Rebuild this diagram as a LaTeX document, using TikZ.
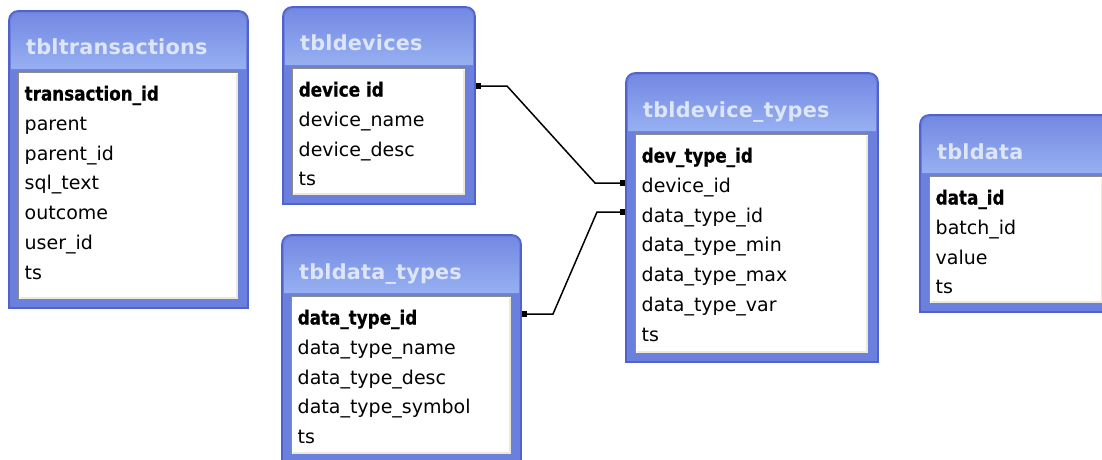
\documentclass[tikz,border=0pt]{standalone}
\usepackage{fontspec}
\setmainfont{DejaVu Sans}
\newfontfamily\titlefont{DejaVu Sans}[LetterSpace=1]
\newfontfamily\keyfont{DejaVu Sans}[FakeStretch=0.86,FakeBold=0.6]
\usetikzlibrary{arrows.meta}

\definecolor{framebody}{HTML}{6B7FDD}
\definecolor{frameedge}{HTML}{5062CF}
\definecolor{titletop}{HTML}{7489E3}
\definecolor{titlebot}{HTML}{97B0F1}
\definecolor{titleink}{HTML}{DCE6F8}
\definecolor{sunkdark}{HTML}{8E8E86}
\definecolor{sunklight}{HTML}{EDE9DA}

\tikzset{
  tblframe/.style={rectangle, draw=none, inner sep=0pt, outer sep=0pt},
  tblbody/.style={rectangle, fill=white, draw=none, inner sep=0pt, outer sep=0pt},
  tbltitle/.style={inner sep=0pt, text=titleink, font=\titlefont\bfseries\fontsize{20.8}{21}\selectfont},
  tblkey/.style={inner sep=0pt, text=black, font=\keyfont\bfseries\fontsize{19.5}{20}\selectfont},
  tblfield/.style={inner sep=0pt, text=black, font=\fontsize{19}{20}\selectfont},
  relation/.style={line width=1.5pt, black,
    {Square[length=5pt,width=6pt]}-{Square[length=5pt,width=6pt]}},
}

% One table: name, left, top, right, bottom, title, key field, other fields
\newcommand\ertable[8]{%
  \node[tblframe, minimum width={(#4-#2)*1pt}, minimum height={(#5-#3)*1pt}]
    (#1) at ({(#2+#4)/2},{(#3+#5)/2}) {};
  \fill[framebody] (#1.south west) [rounded corners=9pt] -- (#1.north west)
    -- (#1.north east) [sharp corners] -- (#1.south east) -- cycle;
  \shade[top color=titletop, bottom color=titlebot]
    ({#2+2},{#3+58}) [rounded corners=8pt] -- ({#2+2},{#3+2})
    -- ({#4-2},{#3+2}) [sharp corners] -- ({#4-2},{#3+58}) -- cycle;
  \draw[frameedge, line width=1.6pt] (#1.south west) [rounded corners=9pt] -- (#1.north west)
    -- (#1.north east) [sharp corners] -- (#1.south east) -- cycle;
  \node[tblbody, minimum width={(#4-#2-19.5)*1pt}, minimum height={(#5-#3-70.5)*1pt}]
    (#1-body) at ({(#2+9.5+#4-10)/2},{(#3+61.5+#5-9)/2}) {};
  \draw[sunklight, line width=2pt] ([shift={(-1,1)}]#1-body.north east)
    -- ([shift={(-1,-1)}]#1-body.south east) -- ([shift={(1,-1)}]#1-body.south west);
  \draw[sunkdark, line width=1.2pt] (#1-body.south west) -- (#1-body.north west)
    -- (#1-body.north east);
  \node[tbltitle, anchor=base west] (#1-title) at ({#2+17},{#3+44}) {#6};
  \node[tblkey, anchor=base west] (#1-key) at ({#2+15.5},{#3+89.5}) {#7};
  \foreach \f [count=\i] in {#8} {
    \node[tblfield, anchor=base west] (#1-f\i) at ({#2+15.5},{#3+89.5+\i*29.75}) {\f};
  }%
}

\begin{document}
\begin{tikzpicture}[x=1pt,y=-1pt]
\useasboundingbox (0,0) rectangle (1102,460);
\clip (0,0) rectangle (1102,460);

\ertable{transactions}{9}{11}{248}{308}{tbltransactions}{transaction\_id}
  {parent, parent\_id, sql\_text, outcome, user\_id, ts}
\ertable{devices}{283}{7}{475}{204}{tbldevices}{device id}
  {device\_name, device\_desc, ts}
\ertable{datatypes}{282}{235}{521}{463}{tbldata\_types}{data\_type\_id}
  {data\_type\_name, data\_type\_desc, data\_type\_symbol, ts}
\ertable{devicetypes}{626}{73}{878}{362}{tbldevice\_types}{dev\_type\_id}
  {device\_id, data\_type\_id, data\_type\_min, data\_type\_max, data\_type\_var, ts}
\ertable{data}{920}{115}{1113}{312}{tbldata}{data\_id}
  {batch\_id, value, ts}

% relationship end points on the table frames
\coordinate (dev-out) at (476,86);
\coordinate (dev-bend1) at (507,86);
\coordinate (dev-bend2) at (595,183);
\coordinate (dev-in) at (625,183);
\coordinate (dt-out) at (522,314);
\coordinate (dt-bend1) at (553,314);
\coordinate (dt-bend2) at (597,212);
\coordinate (dt-in) at (625,212);

\draw[relation] (dev-out) -- (dev-bend1) -- (dev-bend2) -- (dev-in);
\draw[relation] (dt-out) -- (dt-bend1) -- (dt-bend2) -- (dt-in);
\end{tikzpicture}
\end{document}
